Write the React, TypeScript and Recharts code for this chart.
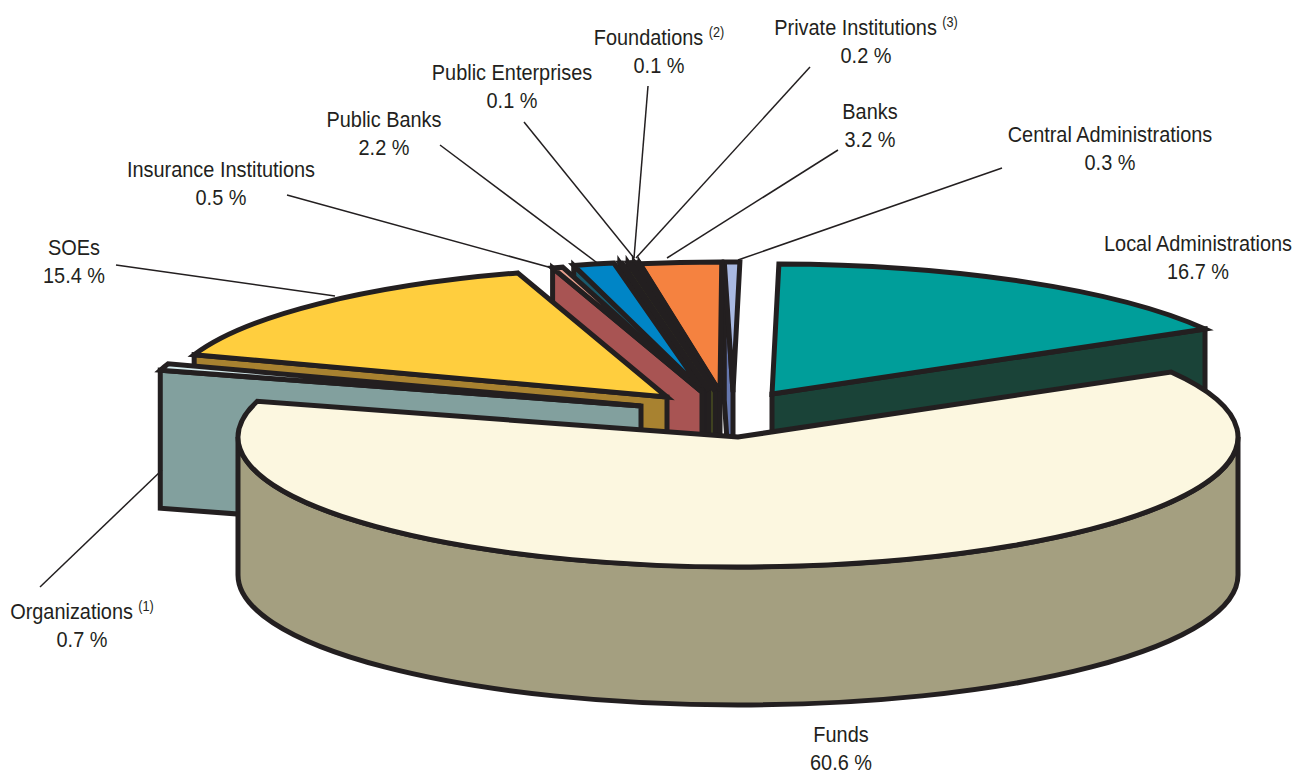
import React from 'react';
import { PieChart, Pie } from 'recharts';

// drawn back to front, Funds has to stay last
const names = [
  'Local Administrations', 'Central Administrations', 'Banks', 'Private Institutions',
  'Foundations', 'Public Enterprises', 'Public Banks', 'Insurance Institutions',
  'SOEs', 'Organizations', 'Funds',
];
const values = [16.7, 0.3, 3.2, 0.2, 0.1, 0.1, 2.2, 0.5, 15.4, 0.7, 60.6];
const notes = ['', '', '', '(3)', '(2)', '', '', '', '', '(1)', ''];

const topColors = ['#009e9a', '#a9b9e2', '#f58240', '#c0602f', '#bcd23f', '#2a2a2a', '#0085c6', '#e9a08e', '#ffce3e', '#d6ecee', '#fcf7e0'];
const wallColors = ['#1a4338', '#6577ae', '#a9582c', '#7a3a20', '#5a6420', '#231f20', '#1a5a6c', '#a85453', '#a88230', '#82a09e', '#a49f80'];

// exploded slice offsets from the pie centre
const offsetX = [35, -4, -17, -18, -22, -28, -34, -35, -70, -96, 1];
const offsetY = [-43, -45, -45, -46, -46, -46, -46, -45, -40, -31, 0];

// the drawing is a hand-made perspective, so shown angles drift from true ones
const trueAngles = [30, 90.1, 91.2, 102.7, 104.2, 112.1, 113.9, 169.3, 171.8, 390];
const shownAngles = [30, 89.2, 89.8, 99.2, 100.3, 106.2, 107.4, 161, 164, 390];
// the thin Central slice would vanish under its own outline, Public Banks leaves a gap
const endNudge = [0, 1.2, 0, 0, 0, 0, -1.2, 0, 0, 0, 0];

const labelX = [1198, 1110, 870, 866, 659, 512, 384, 221, 74, 82, 841];
const labelY = [251, 142, 119, 35, 45, 80, 127, 177, 255, 619, 742];
// leader line ends: x1, y1, x2, y2
const leaders: (number[] | null)[] = [
  null,
  [1002, 168, 738, 260],
  [838, 150, 667, 258],
  [810, 67, 636, 258],
  [648, 86, 634, 258],
  [524, 122, 634, 258],
  [440, 145, 600, 265],
  [287, 195, 552, 268],
  [116, 265, 335, 296],
  [40, 587, 162, 470],
  null,
];

const pieData = names.map((name, i) => ({ name, value: values[i] }));

const INK = '#231f20';
const CX = 737;
const CY = 437;
const RX = 500;
const RY = 130;
const DEPTH = 138;
const FONT = '"Liberation Sans", Arial, sans-serif';

const project = (a: number) => {
  for (let i = 1; i < trueAngles.length; i++) {
    if (a <= trueAngles[i]) {
      const t = (a - trueAngles[i - 1]) / (trueAngles[i] - trueAngles[i - 1]);
      return shownAngles[i - 1] + t * (shownAngles[i] - shownAngles[i - 1]);
    }
  }
  return a;
};

const rimPoint = (x: number, y: number, deg: number) => {
  const r = (deg * Math.PI) / 180;
  return [x + RX * Math.cos(r), y - RY * Math.sin(r)];
};

const Slice = (props: any) => {
  const i = names.indexOf(props.name);
  const start = project(props.startAngle);
  const end = project(props.endAngle) + endNudge[i];
  const ax = props.cx + offsetX[i];
  const ay = props.cy + offsetY[i];
  const [sx, sy] = rimPoint(ax, ay, start);
  const [ex, ey] = rimPoint(ax, ay, end);
  const large = end - start > 180 ? 1 : 0;
  const common = { stroke: INK, strokeWidth: 5, strokeLinejoin: 'miter' as const };

  const walls = [];
  // cut face on the start side shows only right of the vertical
  if (start < 90 && i === 0) {
    walls.push(
      <path key="s" {...common} fill={wallColors[i]}
        d={`M${ax} ${ay}L${sx} ${sy}V${sy + DEPTH}L${ax} ${ay + DEPTH}Z`} />
    );
  }
  // cut face on the end side shows only left of the vertical
  if (end > 90 && end < 180) {
    walls.push(
      <path key="e" {...common} fill={wallColors[i]}
        d={`M${ax} ${ay}L${ex} ${ey}V${ey + DEPTH}L${ax} ${ay + DEPTH}Z`} />
    );
  }
  // front rim
  if (end > 180) {
    const [lx, ly] = rimPoint(ax, ay, 180);
    const [rx, ry] = rimPoint(ax, ay, 360);
    walls.push(
      <path key="r" {...common} fill={wallColors[i]}
        d={`M${lx} ${ly}A${RX} ${RY} 0 0 0 ${rx} ${ry}V${ry + DEPTH}A${RX} ${RY} 0 0 1 ${lx} ${ly + DEPTH}Z`} />
    );
  }

  return (
    <g>
      {walls}
      <path {...common} fill={topColors[i]}
        d={`M${ax} ${ay}L${sx} ${sy}A${RX} ${RY} 0 ${large} 0 ${ex} ${ey}Z`} />
    </g>
  );
};

const SliceLabel = (props: any) => {
  const i = names.indexOf(props.name);
  const line = leaders[i];
  return (
    <g>
      {line && <line x1={line[0]} y1={line[1]} x2={line[2]} y2={line[3]} stroke={INK} strokeWidth={1.5} />}
      {/* the original face is a narrow grotesque, squeeze Liberation Sans to fit */}
      <g transform={`translate(${labelX[i]} ${labelY[i]}) scale(0.905 1)`}
        style={{ fontFamily: FONT, fontSize: 22 }} fill={INK}>
        <text x={0} y={0} textAnchor="middle">
          {names[i]}
          {notes[i] && <tspan dx={6} dy={-8} style={{ fontSize: 14 }}>{notes[i]}</tspan>}
        </text>
        <text x={0} y={28} textAnchor="middle">{values[i].toFixed(1)} %</text>
      </g>
    </g>
  );
};

export default function App() {
  return (
    <div style={{ position: 'absolute', left: 0, top: 0, width: 1296, height: 775, background: '#fff' }}>
      <PieChart width={1296} height={775} margin={{ top: 0, right: 0, bottom: 0, left: 0 }}>
        <Pie
          data={pieData}
          dataKey="value"
          nameKey="name"
          cx={CX}
          cy={CY}
          innerRadius={0}
          outerRadius={RX}
          startAngle={30}
          endAngle={390}
          shape={Slice}
          label={SliceLabel}
          labelLine={false}
          isAnimationActive={false}
        />
      </PieChart>
    </div>
  );
}
